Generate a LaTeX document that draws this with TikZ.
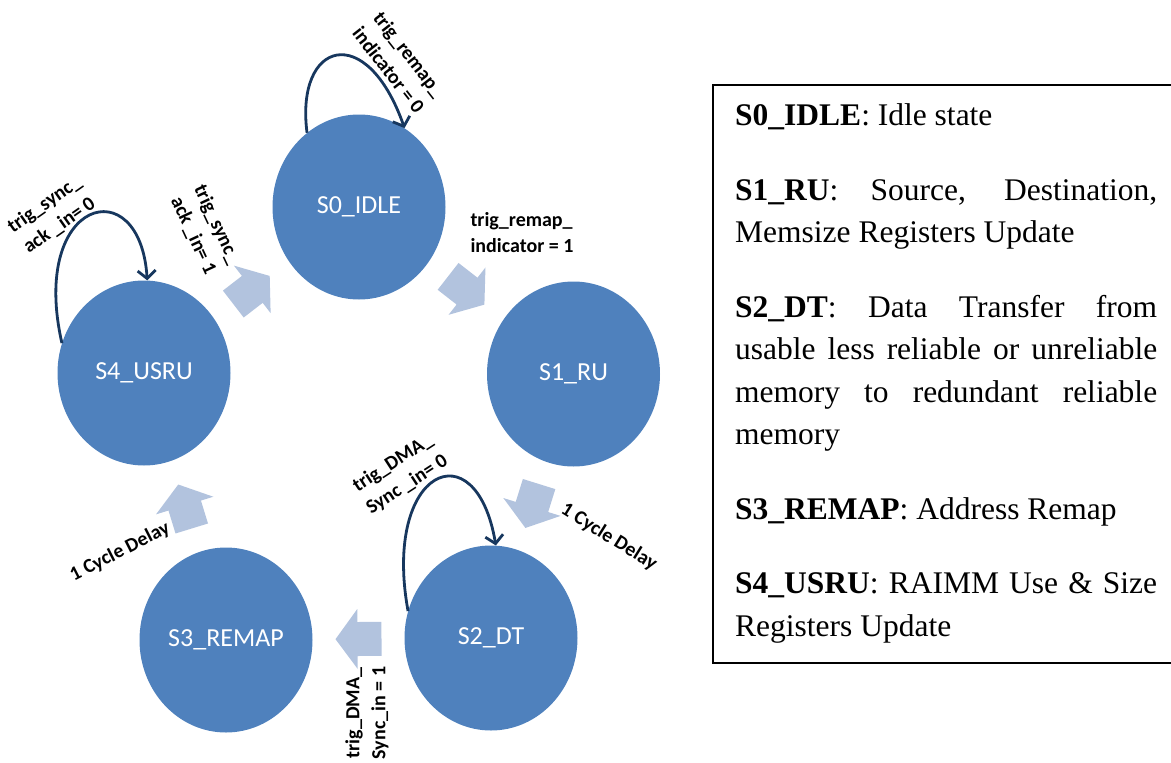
\documentclass[tikz,border=0pt]{standalone}
\usepackage{fontspec}
\setmainfont{Liberation Serif}
\newfontfamily\calib{Carlito}
\usetikzlibrary{shapes.geometric,arrows.meta,calc}
\definecolor{stateblue}{RGB}{79,129,189}
\definecolor{arrfill}{RGB}{178,195,222}
\definecolor{loopcol}{RGB}{23,55,94}
\newcommand\blockarr[2]{%
  \pgfmathanglebetweenpoints{\pgfpointanchor{#1}{center}}{\pgfpointanchor{#2}{center}}%
  \edef\baang{\pgfmathresult}%
  \begin{scope}[shift={($(#1)!0.5!(#2)$)}, rotate=\baang]
    \fill[arrfill] (-23,-17) -- (1,-17) -- (1,-30) -- (23,0) -- (1,30) -- (1,17) -- (-23,17) -- cycle;
  \end{scope}}
\begin{document}
\begin{tikzpicture}[x=1pt,y=-1pt,
  state/.style={ellipse, fill=stateblue, minimum width=173pt, minimum height=185pt, inner sep=0pt, text=white, font=\calib\fontsize{26}{30}\selectfont},
  cond/.style={font=\calib\bfseries\fontsize{20}{26}\selectfont, align=center, inner sep=0pt},
  selfloop/.style={draw=loopcol, line width=2.8pt, -{Straight Barb[length=8pt,width=18pt]}}]
\useasboundingbox (0,0) rectangle (1171,763);

% states
\node[state] (s0) at (359,207) {S0\_IDLE};
\node[state] (s1) at (573.5,374) {S1\_RU};
\node[state] (s2) at (491,638) {S2\_DT};
\node[state] (s3) at (226,640) {S3\_REMAP};
\node[state] (s4) at (144,373) {S4\_USRU};

% block arrows between states
\blockarr{s0}{s1}
\blockarr{s1}{s2}
\blockarr{s2}{s3}
\blockarr{s3}{s4}
\blockarr{s4}{s0}

% self loops
\draw[selfloop] (s0.125) .. controls +(-12,-92) and +(-38,-108) .. (s0.60);
\draw[selfloop] (s4.160) .. controls +(-33,-145) and +(-7,-112) .. (s4.88);
\draw[selfloop] (s2.162) .. controls +(-26,-142) and +(-20,-118) .. (s2.87);

% labels
\node[cond, rotate=-52] (l00) at (399,62) {trig\_remap\_\\indicator = 0};
\node[cond, align=left] (l01) at (522,233) {trig\_remap\_\\indicator = 1};
\node[cond, rotate=-32] (l12) at (609,537) {1 Cycle Delay};
\node[cond, rotate=33] (l22) at (400,474) {trig\_DMA\_\\Sync \_in= 0};
\node[cond, rotate=90] (l23) at (367,713) {trig\_DMA\_\\Sync\_in = 1};
\node[cond, rotate=27] (l34) at (120,552) {1 Cycle Delay};
\node[cond, rotate=35] (l44) at (52,215) {trig\_sync\_\\ack \_in= 0};
\node[cond, rotate=-65] (l40) at (205,230) {trig\_sync\_\\ack \_in= 1};

% legend
\draw[line width=1.8pt] (713,85) rectangle (1173,663);
\node[anchor=base west, inner sep=0pt] (legend) at (735,125.5) {\parbox[t]{422pt}{%
  \fontsize{31.5}{42.5}\selectfont\setlength\parskip{32pt}\setlength\parindent{0pt}%
  \tolerance=10000\hfuzz=6pt
  \textbf{S0\_IDLE}: Idle state\par
  \textbf{S1\_RU}: Source, Destination,\linebreak Memsize Registers Update\par
  \textbf{S2\_DT}: Data Transfer from\linebreak usable less reliable or unreliable\linebreak memory to redundant reliable\linebreak memory\par
  \textbf{S3\_REMAP}: Address Remap\par
  \textbf{S4\_USRU}: RAIMM Use \& Size\linebreak Registers Update}};
\end{tikzpicture}
\end{document}
